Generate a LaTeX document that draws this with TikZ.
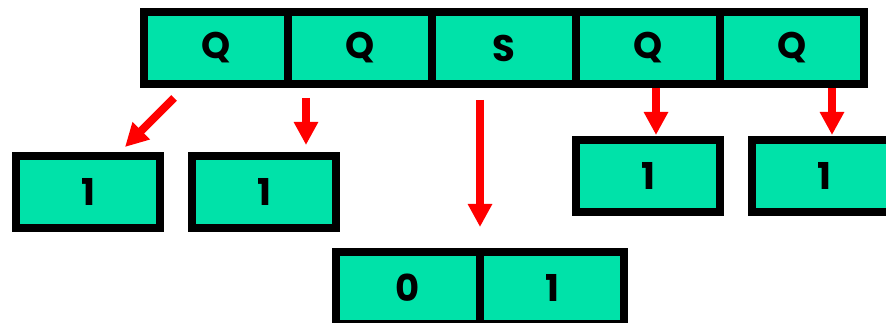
\documentclass[tikz,border=0pt]{standalone}
\usepackage{fontspec}
\setmainfont{Poppins}
\usetikzlibrary{arrows.meta, positioning}
\definecolor{cellgreen}{HTML}{00E2A9}

\tikzset{
  cell/.style={draw=black, line width=8pt, fill=cellgreen, minimum width=144pt,
    minimum height=72pt, inner sep=0pt, outer sep=0pt,
    font=\fontsize{37}{37}\selectfont\bfseries},
  redarrow/.style={draw=red, line width=8pt, -{Triangle[width=23pt,length=23pt]}},
}

\begin{document}
\begin{tikzpicture}[x=1pt, y=-1pt]
  \useasboundingbox (0,0) rectangle (886,323);
  \clip (0,0) rectangle (886,323);
  % the string
  \node[cell] (t1) at (216,48) {Q};
  \node[cell, right=0pt of t1] (t2) {Q};
  \node[cell, right=0pt of t2] (t3) {S};
  \node[cell, right=0pt of t3] (t4) {Q};
  \node[cell, right=0pt of t4] (t5) {Q};
  % what each letter becomes
  \node[cell] (b1) at (88,192) {1};
  \node[cell] (b2) at (264,192) {1};
  \node[cell] (p1) at (408,288) {0};
  \node[cell, right=0pt of p1] (p2) {1};
  \node[cell] (b4) at (648,176) {1};
  \node[cell] (b5) at (824,176) {1};
  % arrows
  \draw[redarrow] ([shift={(-42,14)}]t1.south) -- ([shift={(-35,-9)}]b1.north east);
  \draw[redarrow] ([shift={(-54,14)}]t2.south) -- ([shift={(42,-11)}]b2.north);
  \draw[redarrow] ([shift={(-24,16)}]t3.south) -- ([shift={(0,-25)}]p1.north east);
  \draw[redarrow] ([shift={(8,4)}]t4.south) -- ([shift={(8,-5)}]b4.north);
  \draw[redarrow] ([shift={(40,4)}]t5.south) -- ([shift={(8,-5)}]b5.north);
\end{tikzpicture}
\end{document}
